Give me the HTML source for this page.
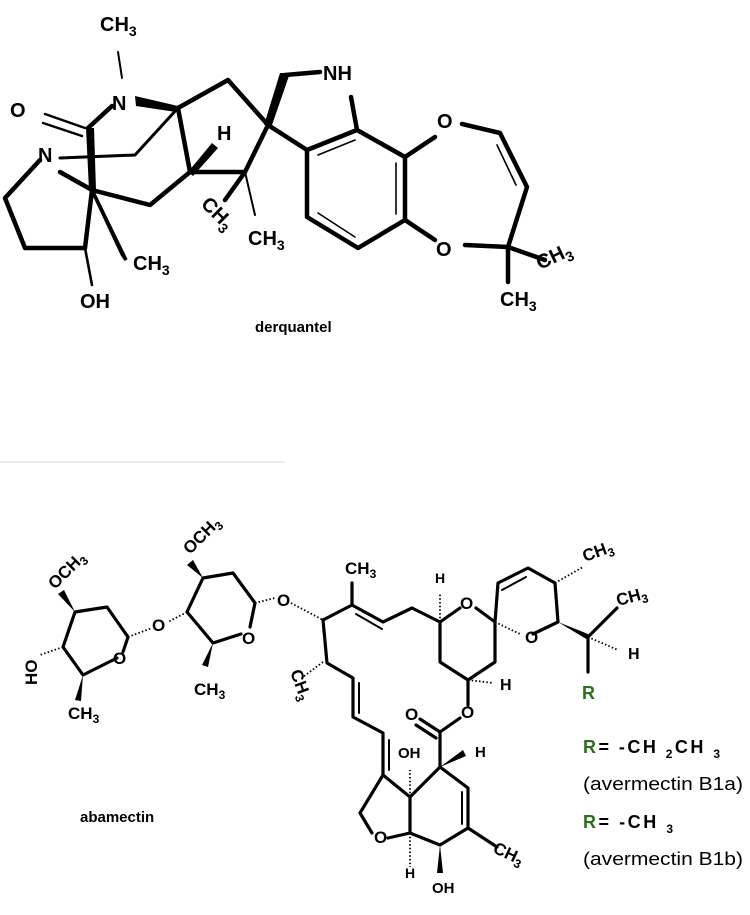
<!DOCTYPE html>
<html><head><style>body{margin:0;background:#fff}svg{display:block}text{font-family:"Liberation Sans",sans-serif;font-weight:bold;fill:#000}</style></head><body>
<svg width="750" height="915" viewBox="0 0 750 915" xmlns="http://www.w3.org/2000/svg">
<line x1="0" y1="462" x2="285" y2="462" stroke="#e6e6e6" stroke-width="1.5"/>
<g stroke="#000" stroke-width="4.5" fill="none" stroke-linecap="round" stroke-linejoin="round">
<line x1="118" y1="52" x2="122" y2="78" stroke-width="2"/>
<line x1="88" y1="128" x2="112" y2="106"/>
<line x1="45" y1="114" x2="85" y2="128" stroke-width="2.4"/><line x1="43" y1="123" x2="82" y2="136" stroke-width="2.4"/>
<polyline points="178,108 228,80 268,125 245,172 190,172 178,108"/>
<polyline points="190,172 150,205 92,190"/>
<polyline points="178,108 135,155 60,158" stroke-width="3"/>
<polyline points="40,160 5,198 25,248 85,248 92,190"/>
<line x1="60" y1="172" x2="92" y2="190"/>
<line x1="85" y1="248" x2="92" y2="285" stroke-width="2.6"/>
<line x1="245" y1="172" x2="255" y2="215" stroke-width="2"/>
<line x1="245" y1="172" x2="225" y2="200"/>
<line x1="268" y1="125" x2="307" y2="150"/>
<line x1="285" y1="75" x2="320" y2="72"/>
<line x1="357" y1="130" x2="351" y2="97"/>
<polygon points="307,150 357,130 405,157 405,220 358,248 307,217" />
<line x1="318" y1="155" x2="355" y2="140" stroke-width="1.6"/>
<line x1="396" y1="163" x2="396" y2="214" stroke-width="1.6"/>
<line x1="318" y1="213" x2="355" y2="237" stroke-width="1.6"/>
<line x1="405" y1="157" x2="435" y2="137"/>
<polyline points="462,124 500,133 527,187 508,247 465,245"/>
<line x1="497" y1="145" x2="516" y2="185" stroke-width="1.6"/>
<line x1="405" y1="220" x2="435" y2="240"/>
<line x1="508" y1="247" x2="545" y2="260"/>
<line x1="508" y1="247" x2="508" y2="282"/>
</g>
<polygon points="135,96 178,106 176,112 136,106" fill="#000"/>
<polygon points="86,128 94,128 96,190 89,190" fill="#000"/>
<polygon points="188,172 193,176 218,148 212,143" fill="#000"/>
<polygon points="264,125 272,125 290,73 280,73" fill="#000"/>
<polygon points="92,190 92,190 122,254 126,260" fill="#000" stroke="#000" stroke-width="3.5"/>
<text x="100" y="31" font-size="20">CH<tspan font-size="14" dy="5">3</tspan></text>
<text x="112" y="110" font-size="20">N</text>
<text x="10" y="117" font-size="20">O</text>
<text x="38" y="162" font-size="20">N</text>
<text x="217" y="140" font-size="20">H</text>
<text x="133" y="270" font-size="20">CH<tspan font-size="14" dy="5">3</tspan></text>
<text x="80" y="308" font-size="20">OH</text>
<text x="248" y="245" font-size="20">CH<tspan font-size="14" dy="5">3</tspan></text>
<text transform="translate(200,205) rotate(45)" font-size="20">CH<tspan font-size="14" dy="5">3</tspan></text>
<text x="323" y="80" font-size="20">NH</text>
<text x="437" y="128" font-size="20">O</text>
<text x="436" y="256" font-size="20">O</text>
<text transform="translate(540,270) rotate(-25)" font-size="20">CH<tspan font-size="14" dy="5">3</tspan></text>
<text x="500" y="306" font-size="20">CH<tspan font-size="14" dy="5">3</tspan></text>
<text x="255" y="332" font-size="15">derquantel</text>

<g stroke="#000" stroke-width="3.2" fill="none" stroke-linecap="round" stroke-linejoin="round">
<polyline points="117,658 83,675 63,647 75,612 107,607 128,637 123,652"/>
<polyline points="241,634 213,643 187,612 203,578 233,573 255,603 250,627"/>
<polyline points="323,620 352,605 383,622 412,608 440,622 460,608"/>
<line x1="352" y1="605" x2="352" y2="583"/>
<line x1="356" y1="614" x2="382" y2="629" stroke-width="2"/>
<polyline points="476,608 495,622 495,662 468,680 440,662 440,622"/>
<polyline points="495,622 498,583 528,568 555,583 558,622 533,634"/>
<line x1="502" y1="590" x2="526" y2="577" stroke-width="2"/>
<line x1="588" y1="637" x2="617" y2="608"/>
<line x1="588" y1="637" x2="588" y2="672"/>
<polyline points="468,680 468,705"/>
<polyline points="460,718 440,732 440,767 468,788 468,828 440,845 410,833 410,797 440,767"/>
<line x1="462" y1="792" x2="462" y2="824" stroke-width="2"/>
<line x1="440" y1="732" x2="420" y2="719"/><line x1="436" y1="738" x2="416" y2="725"/>
<line x1="468" y1="828" x2="497" y2="847"/>
<polyline points="410,833 388,838"/>
<polyline points="372,833 360,813 383,775 410,797"/>
<polyline points="383,775 383,733 353,717 353,678 327,663 323,620"/>
<line x1="389" y1="740" x2="389" y2="770" stroke-width="2"/>
<line x1="359" y1="683" x2="359" y2="713" stroke-width="2"/>
</g>
<g stroke="#000" stroke-width="1.8" stroke-dasharray="1.5 2.2">
<line x1="63" y1="647" x2="40" y2="655"/><line x1="128" y1="637" x2="152" y2="628"/>
<line x1="187" y1="612" x2="168" y2="622"/><line x1="255" y1="603" x2="275" y2="598"/>
<line x1="291" y1="603" x2="323" y2="620"/><line x1="323" y1="662" x2="303" y2="677"/>
<line x1="440" y1="622" x2="440" y2="593"/><line x1="468" y1="680" x2="493" y2="683"/>
<line x1="495" y1="622" x2="520" y2="634"/><line x1="555" y1="583" x2="583" y2="567"/>
<line x1="588" y1="637" x2="618" y2="650"/><line x1="410" y1="797" x2="410" y2="770"/>
<line x1="410" y1="833" x2="410" y2="867"/>
</g>
<g fill="#000">
<polygon points="75,612 58,594 64,590"/><polygon points="83,675 75,700 81,701"/>
<polygon points="203,578 187,565 193,560"/><polygon points="213,643 202,665 208,667"/>
<polygon points="558,622 588,634 588,640"/><polygon points="440,767 463,750 466,756"/>
<polygon points="440,845 437,873 443,873"/>
</g>
<text transform="translate(55,590) rotate(-45)" font-size="17">OCH<tspan font-size="12" dy="4">3</tspan></text>
<text transform="translate(37,685) rotate(-90)" font-size="17">HO</text>
<text x="68" y="719" font-size="17">CH<tspan font-size="12" dy="4">3</tspan></text>
<text x="113" y="664" font-size="17">O</text>
<text x="152" y="631" font-size="17">O</text>
<text transform="translate(190,555) rotate(-45)" font-size="17">OCH<tspan font-size="12" dy="4">3</tspan></text>
<text x="242" y="644" font-size="17">O</text>
<text x="194" y="695" font-size="17">CH<tspan font-size="12" dy="4">3</tspan></text>
<text x="277" y="606" font-size="17">O</text>
<text transform="translate(290,672) rotate(70)" font-size="17">CH<tspan font-size="12" dy="4">3</tspan></text>
<text x="345" y="574" font-size="17">CH<tspan font-size="12" dy="4">3</tspan></text>
<text x="435" y="583" font-size="14">H</text>
<text x="460" y="609" font-size="17">O</text>
<text x="525" y="643" font-size="17">O</text>
<text x="500" y="690" font-size="16">H</text>
<text x="461" y="718" font-size="17">O</text>
<text x="405" y="720" font-size="17">O</text>
<text x="398" y="758" font-size="15">OH</text>
<text x="475" y="757" font-size="15">H</text>
<text x="374" y="843" font-size="17">O</text>
<text x="405" y="878" font-size="14">H</text>
<text x="432" y="893" font-size="15">OH</text>
<text transform="translate(492,852) rotate(25)" font-size="17">CH<tspan font-size="12" dy="4">3</tspan></text>
<text transform="translate(585,562) rotate(-20)" font-size="17">CH<tspan font-size="12" dy="4">3</tspan></text>
<text transform="translate(618,606) rotate(-15)" font-size="17">CH<tspan font-size="12" dy="4">3</tspan></text>
<text x="628" y="659" font-size="16">H</text>
<text x="582" y="699" font-size="18" style="fill:#2a6e1e">R</text>
<text x="583" y="753" font-size="18" textLength="137" lengthAdjust="spacing"><tspan style="fill:#2a6e1e">R</tspan>= -CH <tspan font-size="12" dy="5">2</tspan><tspan dy="-5">CH </tspan><tspan font-size="12" dy="5">3</tspan></text>
<text x="583" y="790" font-size="18" textLength="160" lengthAdjust="spacingAndGlyphs" style="font-weight:normal">(avermectin B1a)</text>
<text x="583" y="828" font-size="18" textLength="90" lengthAdjust="spacing"><tspan style="fill:#2a6e1e">R</tspan>= -CH <tspan font-size="12" dy="5">3</tspan></text>
<text x="583" y="865" font-size="18" textLength="160" lengthAdjust="spacingAndGlyphs" style="font-weight:normal">(avermectin B1b)</text>
<text x="80" y="822" font-size="15">abamectin</text>
</svg>
</body></html>
